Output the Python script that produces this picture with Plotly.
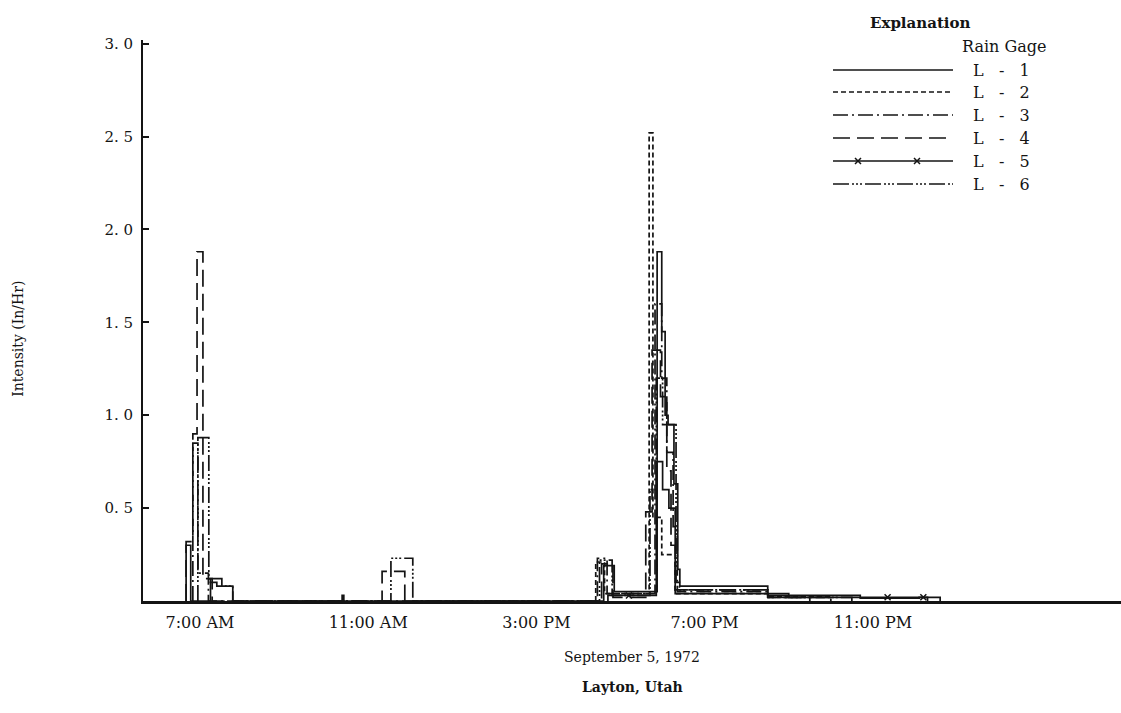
import plotly.graph_objects as go

# rainfall intensity (in/hr) at the Layton rain gages, Sept 5 1972
# each intensity holds from its start time (decimal hours) to the next one
l1_time = [6.67, 6.78, 7.25, 7.52, 7.78, 10.38, 10.42, 16.60, 16.85, 17.87, 17.98, 18.06,
           18.13, 18.27, 18.36, 18.41, 20.50, 22.70, 24.10, 24.60]
l1_int = [0.30, 0.00, 0.12, 0.08, 0.00, 0.03, 0.00, 0.19, 0.05, 1.88, 1.45, 1.00,
          0.95, 0.63, 0.17, 0.08, 0.03, 0.015, 0.02, 0.00]

l2_time = [16.41, 16.62, 17.68, 17.77, 17.98, 18.30, 20.50, 22.00]
l2_int = [0.21, 0.04, 2.52, 0.45, 0.25, 0.04, 0.025, 0.00]

l3_time = [6.83, 6.95, 7.20, 16.45, 16.68, 17.82, 17.98, 18.10, 18.25, 18.35, 20.50, 22.00]
l3_int = [0.85, 0.15, 0.00, 0.23, 0.04, 1.60, 1.20, 0.80, 0.40, 0.05, 0.02, 0.00]

l4_time = [6.67, 6.83, 6.93, 7.07, 7.29, 11.33, 11.87, 16.55, 16.82, 17.60, 17.75, 17.95,
           18.10, 18.20, 18.30, 20.50, 21.50]
l4_int = [0.32, 0.90, 1.88, 0.12, 0.00, 0.16, 0.00, 0.20, 0.02, 0.48, 1.35, 1.10,
          0.70, 0.30, 0.06, 0.02, 0.00]

l5_time = [16.70, 17.85, 18.00, 18.15, 18.30, 21.00, 24.30]
l5_int = [0.03, 0.75, 0.60, 0.50, 0.04, 0.02, 0.00]
l5_marks = [17.20, 23.35, 24.20]

l6_time = [6.95, 7.21, 7.40, 7.78, 11.54, 12.06, 16.50, 16.80, 17.70, 17.85, 18.00, 18.32,
           18.40, 20.50, 22.50]
l6_int = [0.88, 0.10, 0.08, 0.00, 0.23, 0.00, 0.22, 0.03, 0.60, 1.20, 0.95, 0.10,
          0.06, 0.02, 0.00]

gage_names = ["L - 1", "L - 2", "L - 3", "L - 4", "L - 5", "L - 6"]
gage_dash = ["solid", "5px,3px", "15px,4px,2px,4px", "17px,7px", "solid",
             "16px,3px,2px,2px,2px,2px,2px,3px"]

tick_hours = [7, 11, 15, 19, 23]
tick_text = ["7:00 AM", "11:00 AM", "3:00 PM", "7:00 PM", "11:00 PM"]
y_ticks = [0.5, 1.0, 1.5, 2.0, 2.5, 3.0]
y_text = ["0. 5", "1. 0", "1. 5", "2. 0", "2. 5", "3. 0"]

series = [(l1_time, l1_int), (l2_time, l2_int), (l3_time, l3_int),
          (l4_time, l4_int), (l5_time, l5_int), (l6_time, l6_int)]

INK = "#141414"
FONT = "DejaVu Serif"

fig = go.Figure()

for (t, v), name, dash in zip(series, gage_names, gage_dash):
    fig.add_trace(go.Scatter(x=[t[0]] + t, y=[0] + v, mode="lines", name=name,
                             line=dict(color=INK, width=1.7, dash=dash, shape="hv")))


def step_value(t, v, at):
    val = 0
    for ti, vi in zip(t, v):
        if ti <= at:
            val = vi
    return val


# x marks along the L-5 record
fig.add_trace(go.Scatter(x=l5_marks, y=[step_value(l5_time, l5_int, m) for m in l5_marks],
                         mode="markers", marker=dict(symbol="x-thin", size=6, color=INK,
                                                     line=dict(color=INK, width=1.5))))

# hand drawn "Explanation" key, on its own pixel-scaled axes
key_rows = [70, 92, 115, 138, 161, 184]
key_x = [833, 953]
key_mark_x = [858, 917]
for row, name, dash in zip(key_rows, gage_names, gage_dash):
    fig.add_trace(go.Scatter(x=key_x, y=[row, row], mode="lines", xaxis="x2", yaxis="y2",
                             line=dict(color=INK, width=1.7, dash=dash)))
    fig.add_annotation(x=971, y=row, xref="x2", yref="y2",
                       text=name.replace(" ", "\u00a0\u00a0\u00a0"),
                       showarrow=False, xanchor="left", yanchor="middle",
                       font=dict(size=16, family=FONT, color=INK))
fig.add_trace(go.Scatter(x=key_mark_x, y=[key_rows[4]] * 2, mode="markers", xaxis="x2", yaxis="y2",
                         marker=dict(symbol="x-thin", size=6, color=INK, line=dict(color=INK, width=1.5))))

fig.add_annotation(x=0.741, y=1.03, xref="paper", yref="paper", text="<b>Explanation</b>",
                   showarrow=False, xanchor="left", yanchor="middle",
                   font=dict(size=15, family=FONT, color=INK))
fig.add_annotation(x=1049, y=46, xref="x2", yref="y2", text="Rain Gage", showarrow=False,
                   xanchor="right", yanchor="middle", font=dict(size=16, family=FONT, color=INK))

fig.add_annotation(x=0.5, y=-0.1, xref="paper", yref="paper", text="September 5, 1972",
                   showarrow=False, xanchor="center", yanchor="middle",
                   font=dict(size=14, family=FONT, color=INK))
fig.add_annotation(x=0.5, y=-0.153, xref="paper", yref="paper", text="<b>Layton, Utah</b>",
                   showarrow=False, xanchor="center", yanchor="middle",
                   font=dict(size=14, family=FONT, color=INK))
fig.add_annotation(x=-0.128, y=0.467, xref="paper", yref="paper", text="Intensity (In/Hr)",
                   textangle=-90, showarrow=False, xanchor="center", yanchor="middle",
                   font=dict(size=14, family=FONT, color=INK))

fig.update_layout(
    width=1121, height=713,
    margin=dict(l=143, r=0, t=40, b=112),
    plot_bgcolor="white", paper_bgcolor="white",
    showlegend=False,
    font=dict(family=FONT, size=15, color=INK),
    xaxis=dict(range=[5.645, 28.9], tickvals=tick_hours, ticktext=tick_text, showline=True,
               linecolor=INK, linewidth=2.5, ticks="", showgrid=False, zeroline=False,
               ticklabelstandoff=5, tickfont=dict(size=16)),
    yaxis=dict(range=[0, 3.02], tickvals=y_ticks, ticktext=y_text, showline=True,
               linecolor=INK, linewidth=2, ticks="inside", ticklen=6, tickwidth=1.5,
               tickcolor=INK, showgrid=False, zeroline=False, ticklabelstandoff=5,
               tickfont=dict(size=15)),
    xaxis2=dict(domain=[0.7, 1.0], range=[827.6, 1121], visible=False, anchor="y2"),
    yaxis2=dict(domain=[0.7, 1.0], range=[208.3, 40], visible=False, anchor="x2"),
)

# drop the default page margin so the figure sits flush in the window
fig.write_html("out.html", config={"displayModeBar": False},
               post_script="document.body.style.margin='0px';")
